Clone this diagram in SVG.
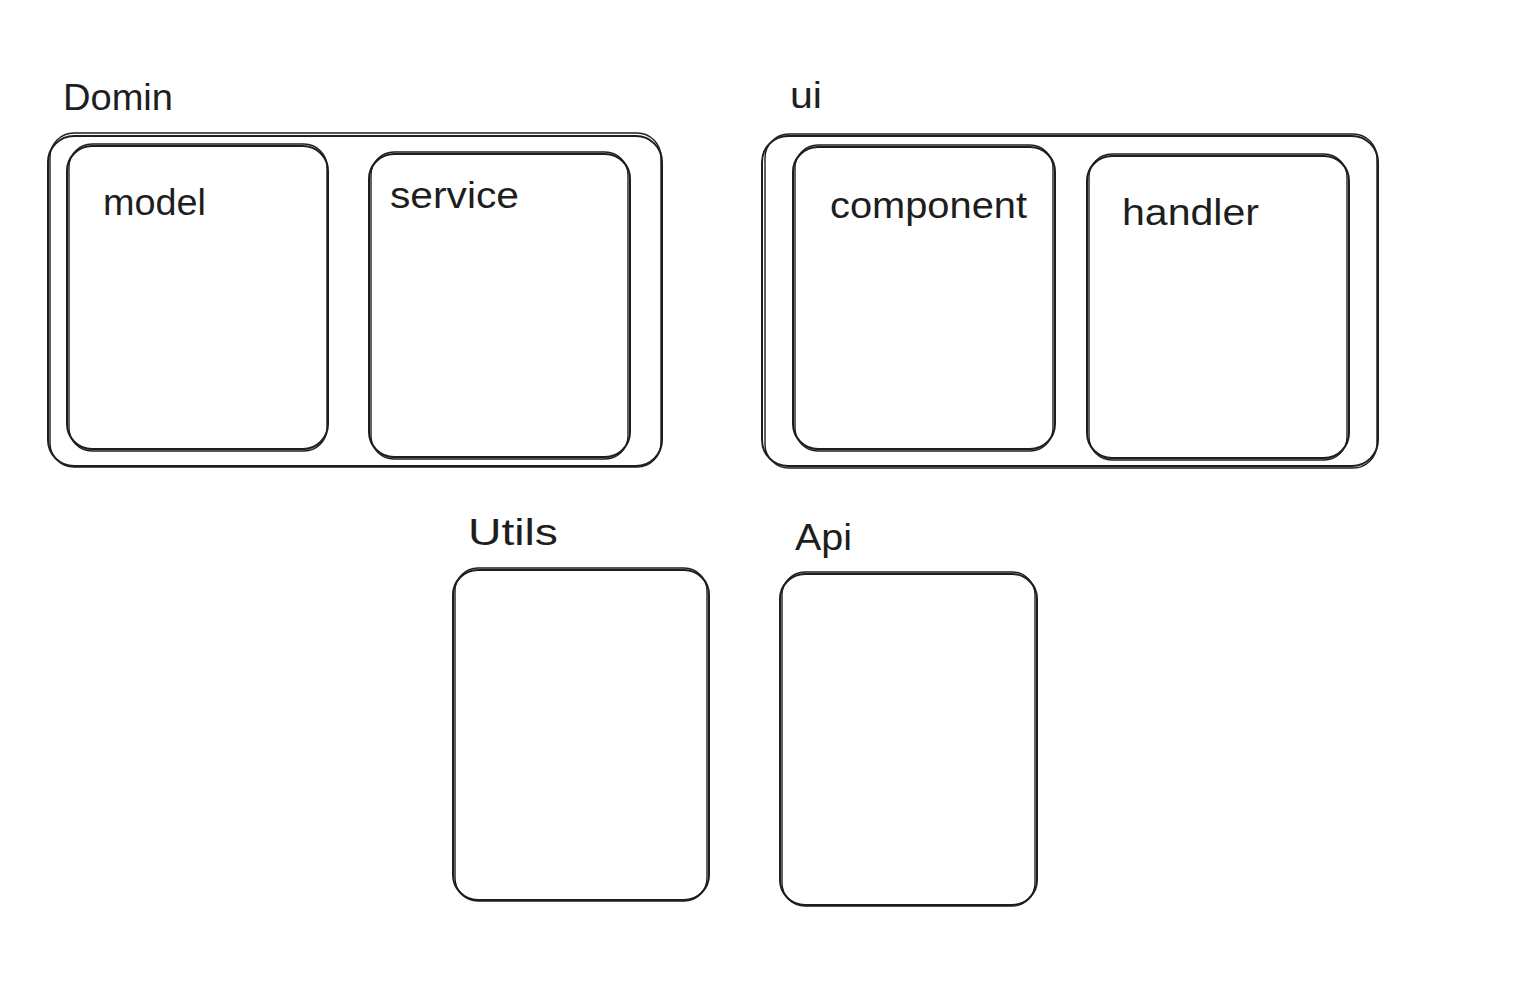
<svg xmlns="http://www.w3.org/2000/svg" width="1532" height="1004" viewBox="0 0 1532 1004">
<style>
.b{fill:none;stroke:#1e1e1e;stroke-width:2;stroke-linecap:round}
.b2{fill:none;stroke:#1e1e1e;stroke-width:1.4;stroke-linecap:round}
.t{font-family:"Liberation Sans","DejaVu Sans",sans-serif;font-size:36px;fill:#1e1e1e}
</style>
<rect width="1532" height="1004" fill="#ffffff"/>
<g id="domin">
<rect class="b" x="48" y="136" width="614" height="330" rx="26"/>
<rect class="b2" x="50" y="133" width="611" height="334" rx="24"/>
<text class="t" x="63" y="110" textLength="110" lengthAdjust="spacingAndGlyphs">Domin</text>
</g>
<g id="model">
<rect class="b" x="67" y="146" width="261" height="303" rx="25"/>
<rect class="b2" x="69" y="144" width="258" height="307" rx="23"/>
<text class="t" x="103" y="215" textLength="103" lengthAdjust="spacingAndGlyphs">model</text>
</g>
<g id="service">
<rect class="b" x="369" y="154" width="261" height="303" rx="25"/>
<rect class="b2" x="371" y="152" width="257" height="307" rx="23"/>
<text class="t" x="390" y="208" textLength="129" lengthAdjust="spacingAndGlyphs">service</text>
</g>
<g id="ui">
<rect class="b" x="762" y="136" width="616" height="330" rx="26"/>
<rect class="b2" x="765" y="134" width="612" height="334" rx="24"/>
<text class="t" x="790" y="108" textLength="32" lengthAdjust="spacingAndGlyphs">ui</text>
</g>
<g id="component">
<rect class="b" x="793" y="147" width="262" height="302" rx="25"/>
<rect class="b2" x="795" y="145" width="258" height="306" rx="23"/>
<text class="t" x="830" y="218" textLength="197" lengthAdjust="spacingAndGlyphs">component</text>
</g>
<g id="handler">
<rect class="b" x="1087" y="156" width="262" height="302" rx="25"/>
<rect class="b2" x="1089" y="154" width="258" height="306" rx="23"/>
<text class="t" x="1122" y="225" textLength="137" lengthAdjust="spacingAndGlyphs">handler</text>
</g>
<g id="utils">
<rect class="b" x="453" y="570" width="256" height="330" rx="25"/>
<rect class="b2" x="455" y="568" width="252" height="333" rx="23"/>
<text class="t" x="468" y="545" textLength="90" lengthAdjust="spacingAndGlyphs">Utils</text>
</g>
<g id="api">
<rect class="b" x="780" y="574" width="257" height="331" rx="25"/>
<rect class="b2" x="782" y="572" width="253" height="334" rx="23"/>
<text class="t" x="795" y="550" textLength="57" lengthAdjust="spacingAndGlyphs">Api</text>
</g>
<g id="connectors"></g>
</svg>
